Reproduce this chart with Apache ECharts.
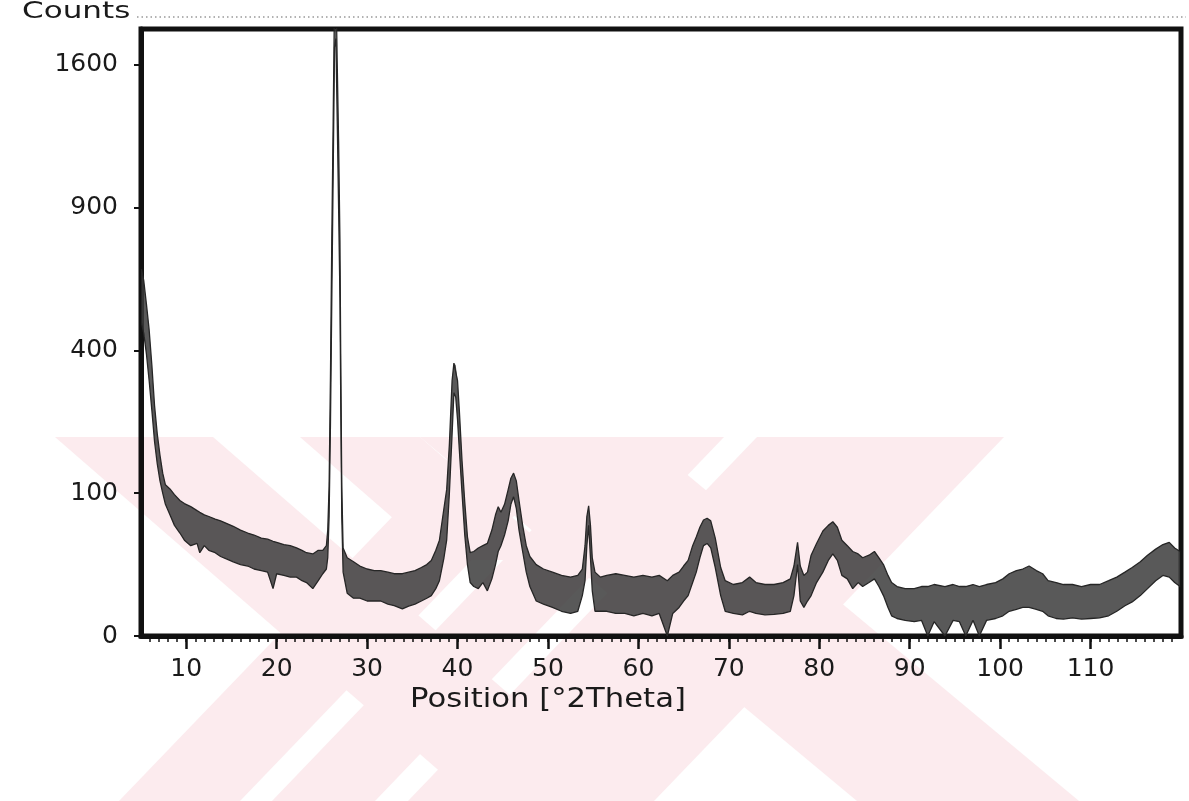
<!DOCTYPE html>
<html>
<head>
<meta charset="utf-8">
<title>Position [°2Theta]</title>
<script src="https://cdn.jsdelivr.net/npm/echarts@6/dist/echarts.min.js"></script>
<style>
  html, body { margin: 0; padding: 0; background: #fff; }
  #xrd-chart { width: 1189px; height: 801px; }
</style>
</head>
<body>
<div id="xrd-chart"></div>
<script>
var twoTheta = [
  5.05, 5.3, 5.6, 5.9, 6.2, 6.5, 6.8, 7.1, 7.4, 7.7, 8.2, 8.7, 9.3, 9.8, 10.5,
  11.2, 11.5, 12.0, 12.5, 13.2, 13.8, 14.5, 15.2, 16.0, 16.8, 17.5, 18.3, 19.0, 19.6, 20.0,
  20.8, 21.5, 22.2, 22.8, 23.3, 24.0, 24.6, 25.1, 25.5, 25.65, 25.8, 25.95, 26.1, 26.25, 26.4,
  26.55, 26.7, 26.85, 27.0, 27.1, 27.2, 27.35, 27.8, 28.5, 29.2, 30.0, 30.8, 31.5, 32.3, 33.0,
  33.9, 34.6, 35.3, 36.0, 36.6, 37.1, 37.6, 38.0, 38.5, 38.8, 39.1, 39.4, 39.6, 39.8, 40.0,
  40.2, 40.5, 40.8, 41.1, 41.4, 41.8, 42.3, 42.8, 43.3, 43.8, 44.2, 44.5, 44.8, 45.2, 45.6,
  45.9, 46.2, 46.5, 46.8, 47.2, 47.6, 48.0, 48.7, 49.5, 50.5, 51.5, 52.5, 53.3, 53.8, 54.1,
  54.3, 54.5, 54.7, 54.9, 55.2, 55.8, 56.5, 57.5, 58.5, 59.5, 60.5, 61.5, 62.3, 63.2, 63.8,
  64.5, 65.0, 65.5, 66.0, 66.4, 66.8, 67.2, 67.6, 68.0, 68.5, 69.1, 69.6, 70.5, 71.5, 72.3,
  73.0, 74.0, 75.0, 76.0, 76.8, 77.2, 77.6, 77.9, 78.3, 78.7, 79.1, 79.7, 80.4, 81.0, 81.5,
  82.0, 82.5, 83.1, 83.7, 84.3, 84.8, 85.5, 86.1, 86.6, 87.1, 87.6, 88.0, 88.6, 89.5, 90.5,
  91.3, 92.0, 92.7, 93.9, 94.8, 95.5, 96.2, 97.0, 97.7, 98.5, 99.5, 100.3, 101.0, 101.8, 102.5,
  103.2, 104.0, 104.7, 105.3, 106.2, 107.0, 108.0, 109.0, 110.0, 111.0, 112.0, 112.9, 113.8, 114.6, 115.5,
  116.3, 117.2, 118.0, 118.7, 119.3, 119.9
];
// lower edge of the trace (counts)
var countsLow = [
  480, 450, 390, 320, 250, 185, 145, 118, 100, 85, 72, 60, 52, 45, 40,
  42, 34, 40, 36, 34, 31, 29, 27, 25, 24, 22, 21, 20, 11, 19,
  18, 17, 17, 15, 14, 11, 15, 19, 22, 30, 70, 220, 560, 1050, 1700,
  1750, 1300, 900, 560, 240, 70, 20, 9, 7, 7, 6, 6, 6, 5, 4.5,
  3.6, 4.4, 5, 6, 7, 8, 11, 15, 30, 45, 100, 200, 290, 280, 230,
  170, 100, 50, 25, 14, 12, 11, 14, 10, 16, 25, 35, 40, 50, 65,
  85, 95, 80, 55, 35, 20, 12, 6, 5, 4, 3, 2.5, 3, 8, 15,
  40, 60, 30, 10, 3, 3, 3, 2.5, 2.5, 2, 2.5, 2, 2.5, 0, 2.5,
  4, 6, 8, 14, 20, 30, 40, 42, 38, 23, 8, 3, 2.5, 2.2, 3,
  2.5, 2.2, 2.3, 2.5, 3, 8, 25, 6, 4, 6, 8, 14, 20, 28, 33,
  28, 18, 16, 11, 14, 12, 14, 16, 12, 8, 4, 2, 1.5, 1.2, 1.0,
  1.2, 0, 1, 0, 1.2, 1, 0, 1.2, 0, 1.2, 1.5, 2, 3, 3.5, 4,
  4, 3.5, 3, 2, 1.5, 1.4, 1.6, 1.4, 1.5, 1.6, 2, 3, 4.5, 5.7, 8,
  11, 15, 18, 17, 14, 12
];
// upper edge of the trace (counts)
var countsHigh = [
  660, 620, 540, 460, 360, 260, 200, 160, 130, 112, 106, 98, 90, 86, 82,
  77, 75, 72, 70, 67, 65, 62, 59, 55, 52, 50, 47, 46, 44, 43,
  41, 40, 38, 36, 34, 33, 36, 36, 40, 55, 110, 330, 780, 1300, 2000,
  2100, 1600, 1200, 760, 330, 110, 38, 30, 27, 24, 22, 21, 21, 20, 19,
  19, 20, 21, 23, 25, 28, 36, 45, 80, 105, 180, 320, 365, 360, 320,
  250, 150, 88, 48, 34, 35, 38, 40, 42, 55, 72, 82, 75, 85, 105,
  122, 130, 118, 90, 60, 40, 31, 25, 22, 20, 18, 17, 18, 22, 40,
  70, 83, 60, 30, 20, 17, 18, 19, 18, 17, 18, 17, 18, 15, 18,
  20, 24, 28, 40, 48, 58, 66, 68, 65, 47, 23, 15, 13, 14, 17,
  14, 13, 13, 14, 16, 24, 43, 24, 18, 20, 32, 42, 54, 60, 64,
  58, 45, 40, 35, 33, 30, 32, 35, 30, 25, 18, 14, 12, 11, 11,
  12, 12, 13, 12, 13, 12, 12, 13, 12, 13, 14, 16, 19, 21, 22,
  24, 21, 19, 15, 14, 13, 13, 12, 13, 13, 15, 17, 20, 23, 27,
  32, 37, 41, 43, 38, 35
];
var xTickLabels = [10, 20, 30, 40, 50, 60, 70, 80, 90, 100, 110];
var yTickLabels = [0, 100, 400, 900, 1600];

// the counts axis is drawn on a square-root scale
var yMaxRoot = 42.5;
var minorTicks = [];
for (var t = 6; t < 120; t++) minorTicks.push(t);

var lowLine = twoTheta.map(function (x, i) { return [x, Math.sqrt(countsLow[i])]; });
var highLine = twoTheta.map(function (x, i) { return [x, Math.sqrt(countsHigh[i])]; });

function renderBand(params, api) {
  if (params.dataIndex !== 0) return;
  var top = params.coordSys.y;
  var pts = [];
  var i, p;
  for (i = 0; i < highLine.length; i++) {
    p = api.coord(highLine[i]);
    pts.push([p[0], Math.max(p[1], top)]);
  }
  for (i = lowLine.length - 1; i >= 0; i--) {
    p = api.coord(lowLine[i]);
    pts.push([p[0], Math.max(p[1], top)]);
  }
  return {
    type: 'polygon',
    shape: { points: pts },
    style: { fill: '#3c3c3c', opacity: 0.85 }
  };
}

// pale pink stripes of the page watermark (pixel positions)
var pink = '#fcebee';
function stripe(topA, topB, y1, botA, botB) {
  return {
    type: 'polygon', z: -10, silent: true,
    shape: { points: [[topA, 437], [topB, 437], [botB, y1], [botA, y1]] },
    style: { fill: pink }
  };
}

var chart = echarts.init(document.getElementById('xrd-chart'));
var textColor = '#1a1a1a';
var option = {
  backgroundColor: '#fff',
  animation: false,
  grid: {
    left: 141, right: 8, top: 29, bottom: 165,
    show: true, borderColor: '#111', borderWidth: 5
  },
  xAxis: [
    {
      type: 'value', min: 5, max: 120, position: 'bottom',
      axisLine: { onZero: false, lineStyle: { color: '#111', width: 5 } },
      axisTick: { customValues: xTickLabels, length: 13, lineStyle: { color: '#111', width: 2.5 } },
      axisLabel: {
        customValues: xTickLabels, margin: 21, color: textColor,
        fontFamily: 'DejaVu Sans', fontSize: 25
      },
      splitLine: { show: false }
    },
    {
      type: 'value', min: 5, max: 120, position: 'bottom',
      axisLine: { show: false },
      axisTick: { customValues: minorTicks, length: 6, lineStyle: { color: '#111', width: 1.5 } },
      axisLabel: { show: false },
      splitLine: { show: false }
    }
  ],
  yAxis: {
    type: 'value', min: 0, max: yMaxRoot,
    axisLine: { show: true, lineStyle: { color: '#111', width: 5 } },
    axisTick: {
      customValues: yTickLabels.map(Math.sqrt), length: 7,
      lineStyle: { color: '#111', width: 2 }
    },
    axisLabel: {
      customValues: yTickLabels.map(Math.sqrt), margin: 23, color: textColor,
      fontFamily: 'DejaVu Sans', fontSize: 25,
      formatter: function (v) { return Math.round(v * v); }
    },
    splitLine: { show: false }
  },
  graphic: [
    stripe(55, 213, 801, 474, 632),
    stripe(300, 420, 560, 441, 561),
    stripe(420, 642, 801, 857, 1079),
    stripe(469, 590, 801, 119, 240),
    stripe(621, 724, 801, 272, 375),
    stripe(757, 1004, 801, 408, 654),
    {
      type: 'line', silent: true,
      shape: { x1: 137, y1: 17, x2: 1186, y2: 17 },
      style: { stroke: '#999', lineWidth: 1.5, lineDash: [1.5, 3] }
    },
    {
      type: 'text', x: 22, y: 12, scaleX: 1.35, silent: true,
      style: {
        text: 'Counts', fill: textColor, font: '23px "DejaVu Sans"',
        textAlign: 'left', textVerticalAlign: 'middle'
      }
    },
    {
      type: 'text', x: 410, y: 700, scaleX: 1.18, silent: true,
      style: {
        text: 'Position [°2Theta]', fill: textColor, font: '26px "DejaVu Sans"',
        textAlign: 'left', textVerticalAlign: 'middle'
      }
    }
  ],
  series: [
    {
      name: 'band', type: 'custom', renderItem: renderBand,
      data: [0], z: 2, silent: true
    },
    {
      name: 'upper', type: 'line', data: highLine, symbol: 'none', silent: true,
      lineStyle: { color: '#262626', width: 1.3 }, z: 3
    },
    {
      name: 'lower', type: 'line', data: lowLine, symbol: 'none', silent: true,
      lineStyle: { color: '#262626', width: 1.3 }, z: 3
    }
  ]
};
chart.setOption(option);
</script>
</body>
</html>
